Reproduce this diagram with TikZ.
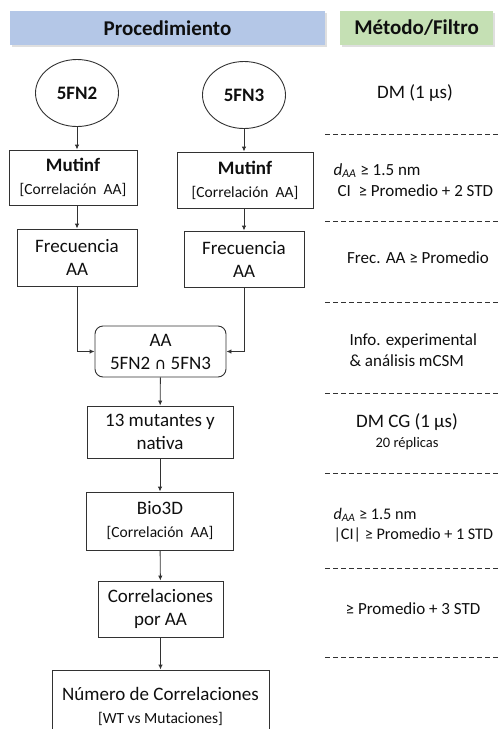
\documentclass[tikz,border=0pt]{standalone}
\usepackage{fontspec}
\setmainfont{Carlito}
\newfontfamily\symfont{DejaVu Sans}
\usetikzlibrary{shapes.geometric,positioning,shadows,arrows.meta}

\definecolor{procblue}{RGB}{180,199,231}
\definecolor{metgreen}{RGB}{197,224,180}
\definecolor{linegray}{RGB}{50,50,50}
\definecolor{textgray}{RGB}{15,15,15}

\tikzset{
  header/.style={fill=#1, text=textgray, font=\fontsize{21}{24}\selectfont\bfseries,
    drop shadow={opacity=0.25, shadow xshift=1.5pt, shadow yshift=-1.5pt}},
  pdb/.style={ellipse, draw=linegray, line width=0.9pt, text=textgray,
    minimum width=83pt, minimum height=67pt, font=\fontsize{19}{23}\selectfont\bfseries},
  stepbox/.style={draw=linegray, line width=0.9pt, fill=white, text=textgray,
    align=center, inner sep=2pt, font=\fontsize{19}{23}\selectfont},
  crit/.style={text=textgray, align=left, font=\fontsize{17}{21}\selectfont},
  sep/.style={draw=linegray, dashed, dash pattern=on 5pt off 3pt, line width=0.7pt},
  conn/.style={draw=linegray, line width=0.9pt, ->},
}

\newcommand{\smalltxt}[1]{{\fontsize{15.5}{19}\selectfont #1}}
\newcommand{\daa}{\textit{d}\textsubscript{\textit{AA}}}

\begin{document}
\begin{tikzpicture}[x=1pt, y=-1pt, >={Latex[length=5pt,width=4.5pt]}]
   \useasboundingbox (0,0) rectangle (498,729);
   \clip (0,0) rectangle (498,729);
   % column headers
   \node[header=procblue, minimum width=315pt, minimum height=34pt] (proc) at (167.5,28) {Procedimiento};
   \node[header=metgreen, minimum width=153pt, minimum height=34pt] (metodo) at (416.5,28) {Método/Filtro};

   % procedure
   \node[pdb] (fn2) at (77,93) {5FN2};
   \node[pdb] (fn3) at (244,95) {5FN3};
   \node[stepbox, minimum width=128pt, minimum height=55pt] (mut2) at (73,177.5)
     {\textbf{Mutinf}\\ \smalltxt{[Correlación\ \ AA]}};
   \node[stepbox, minimum width=136pt, minimum height=56pt] (mut3) at (245,180)
     {\textbf{Mutinf}\\ \smalltxt{[Correlación\ \ AA]}};
   \node[stepbox, minimum width=120pt, minimum height=57pt] (frec2) at (77,257.5) {Frecuencia\\ AA};
   \node[stepbox, minimum width=120pt, minimum height=56pt] (frec3) at (244,259) {Frecuencia\\ AA};
   \node[stepbox, rounded corners=8pt, minimum width=131pt, minimum height=51pt] (inter) at (160.5,351.5)
     {AA\\ 5FN2 {\symfont\fontsize{16}{20}\selectfont ∩} 5FN3};
   \node[stepbox, minimum width=146pt, minimum height=52pt] (mutantes) at (160,432) {13 mutantes y\\ nativa};
   \node[stepbox, minimum width=147pt, minimum height=58pt] (bio) at (160,521)
     {Bio3D\\ \smalltxt{[Correlación\ \ AA]}};
   \node[stepbox, minimum width=125pt, minimum height=56pt] (corr) at (160.5,609) {Correlaciones\\ por AA};
   \node[stepbox, minimum width=217pt, minimum height=72pt] (numero) at (160.5,706)
     {Número de Correlaciones\\ \smalltxt{[WT vs Mutaciones]}};

   \path[conn] (fn2.south) -- (fn2.south |- mut2.north);
   \path[conn] (fn3.south) -- (fn3.south |- mut3.north);
   \path[conn] (mut2.south -| fn2.south) -- (fn2.south |- frec2.north);
   \path[conn] (mut3.south -| fn3.south) -- (fn3.south |- frec3.north);
   \path[conn] (frec2.south) |- (inter.west);
   \path[conn] (frec3.south) |- (inter.east);
   \path[conn] (inter) -- (mutantes);
   \path[conn] (mutantes) -- (bio);
   \path[conn] (bio) -- (corr);
   \path[conn] (corr) -- (numero);

   % methods / filters
   \node[text=textgray, font=\fontsize{19}{23}\selectfont] (dm) at (415,93) {DM (1 μs)};
   \node[crit, anchor=west] (filt1) at (330,180) {\daa\ ≥ 1.5 nm\\ \hspace{4pt}CI\ \ ≥ Promedio + 2 STD};
   \node[crit] (filt2) at (418,258) {Frec. AA ≥ Promedio};
   \node[crit, anchor=west] (filt3) at (346,350) {Info. experimental\\ \& análisis mCSM};
   \node[text=textgray, align=center, font=\fontsize{19}{23}\selectfont] (dmcg) at (407,432)
     {DM CG (1 μs)\\[-3pt] {\fontsize{14.5}{17}\selectfont 20 réplicas}};
   \node[crit, anchor=west, font=\fontsize{16.2}{20}\selectfont] (filt4) at (330,525)
     {\daa\ ≥ 1.5 nm\\ |CI| ≥ Promedio + 1 STD};
   \node[crit] (filt5) at (413,609) {≥ Promedio + 3 STD};

   \foreach \y in {134,221,302,393,473,568,657}
     \draw[sep] (325,\y) -- (498,\y);
\end{tikzpicture}
\end{document}
